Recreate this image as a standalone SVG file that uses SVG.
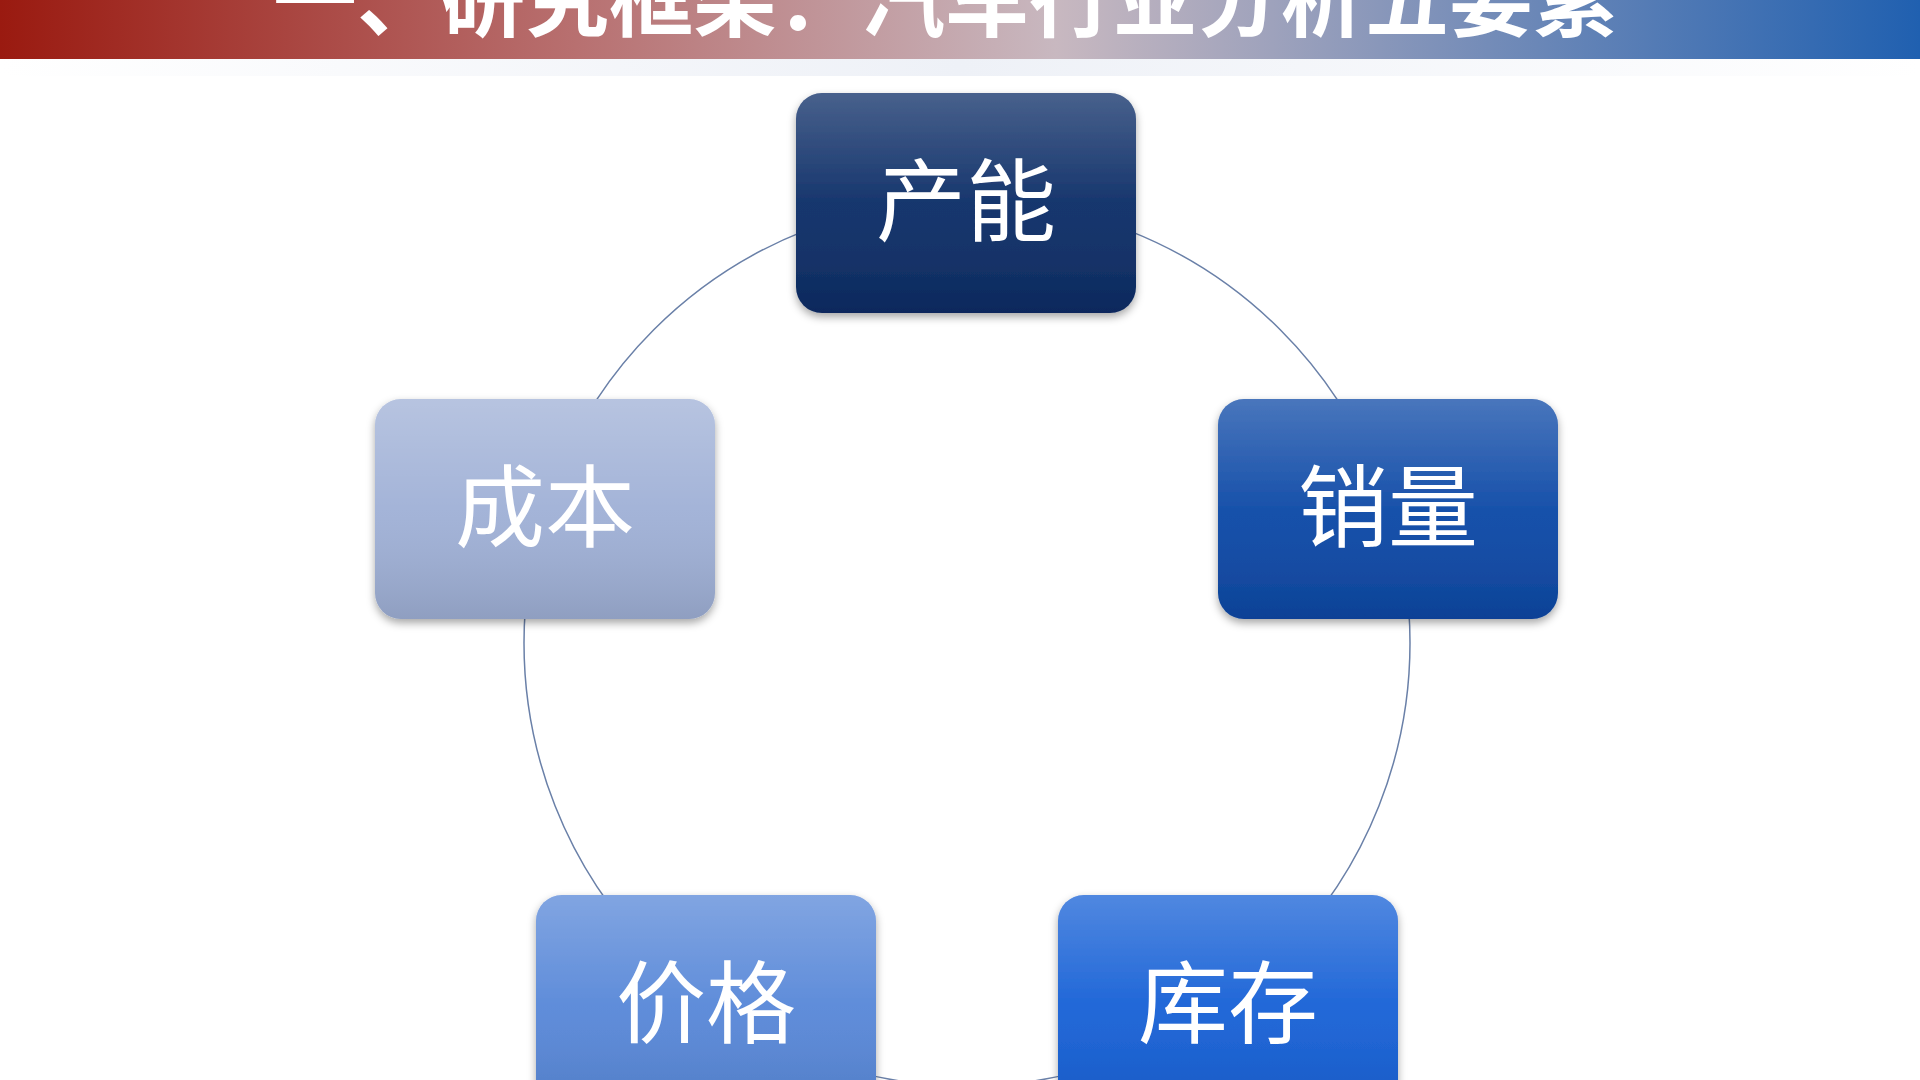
<svg xmlns="http://www.w3.org/2000/svg" width="1920" height="1080" viewBox="0 0 1920 1080">
<defs>
<linearGradient id="hdr" x1="0" y1="0" x2="1" y2="0">
<stop offset="0" stop-color="#9a1a10"/><stop offset="0.3" stop-color="#b87070"/><stop offset="0.55" stop-color="#c8b8c0"/><stop offset="1" stop-color="#2060b0"/>
</linearGradient>
<linearGradient id="band" x1="0" y1="0" x2="1" y2="0">
<stop offset="0" stop-color="#ffffff"/><stop offset="0.5" stop-color="#eef1f7"/><stop offset="1" stop-color="#ffffff"/>
</linearGradient>
<linearGradient id="shine" x1="0" y1="0" x2="0" y2="1">
<stop offset="0" stop-color="#fff" stop-opacity="0.25"/><stop offset="0.5" stop-color="#fff" stop-opacity="0.05"/><stop offset="1" stop-color="#000" stop-opacity="0.1"/>
</linearGradient>
<filter id="sh" x="-10%" y="-10%" width="120%" height="130%"><feDropShadow dx="0" dy="4" stdDeviation="4" flood-opacity="0.35"/></filter>
</defs>
<style>
.t{font-family:"Noto Sans CJK SC",sans-serif;font-size:90px;fill:#fff;text-anchor:middle;}
.n{filter:url(#sh);}
</style>
<rect width="1920" height="1080" fill="#fff"/>
<rect x="0" y="59" width="1920" height="17" fill="url(#band)"/>
<rect x="0" y="0" width="1920" height="59" fill="url(#hdr)"/>
<text x="945" y="30" font-family="Noto Sans CJK SC,sans-serif" font-weight="bold" font-size="84" fill="#fff" text-anchor="middle">一、研究框架：汽车行业分析五要素</text>
<g id="connectors"><circle cx="967" cy="643" r="443" fill="none" stroke="#6a80a8" stroke-width="1.5"/></g>
<g id="n1" class="n"><rect x="796" y="93" width="340" height="220" rx="26" fill="#0b2c66"/><rect x="796" y="93" width="340" height="220" rx="26" fill="url(#shine)"/><text class="t" x="966" y="234">产能</text></g>
<g id="n2" class="n"><rect x="1218" y="399" width="340" height="220" rx="26" fill="#0c48a6"/><rect x="1218" y="399" width="340" height="220" rx="26" fill="url(#shine)"/><text class="t" x="1388" y="540">销量</text></g>
<g id="n3" class="n"><rect x="375" y="399" width="340" height="220" rx="26" fill="#9fb0d6"/><rect x="375" y="399" width="340" height="220" rx="26" fill="url(#shine)"/><text class="t" x="545" y="540">成本</text></g>
<g id="n4" class="n"><rect x="536" y="895" width="340" height="220" rx="26" fill="#5787d8"/><rect x="536" y="895" width="340" height="220" rx="26" fill="url(#shine)"/><text class="t" x="706" y="1036">价格</text></g>
<g id="n5" class="n"><rect x="1058" y="895" width="340" height="220" rx="26" fill="#1660d6"/><rect x="1058" y="895" width="340" height="220" rx="26" fill="url(#shine)"/><text class="t" x="1228" y="1036">库存</text></g>
</svg>
